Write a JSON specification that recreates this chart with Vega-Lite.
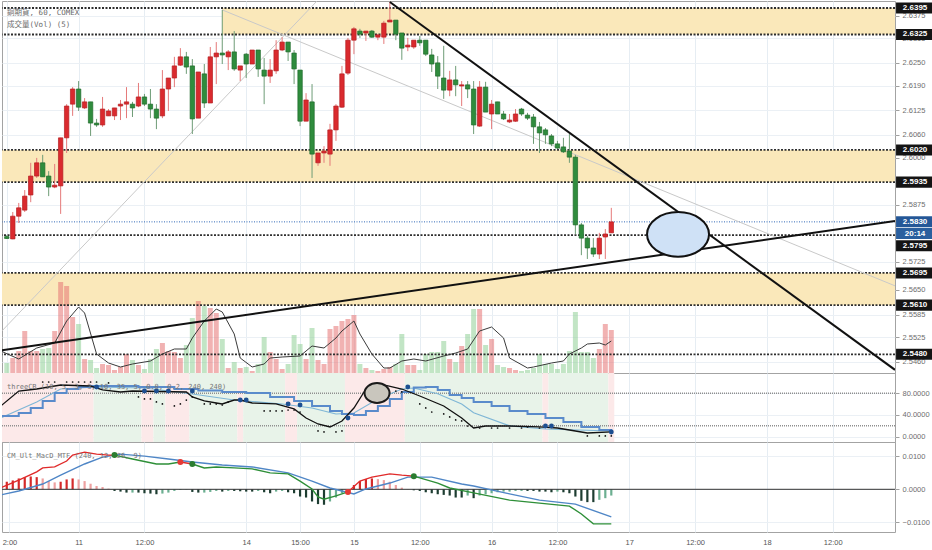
{
"$schema":"https://vega.github.io/schema/vega-lite/v6.json",
"padding":0,
"background":"#ffffff",
"spacing":0,
"bounds":"flush",
"config":{"view":{"stroke":"#a3a3a3","strokeWidth":1},"scale":{"continuousPadding":0},"font":"Liberation Sans","axis":{"labelFont":"Liberation Sans","labelFontSize":7.5,"labelColor":"#6e6e6e","tickColor":"#a0a0a0","tickSize":4,"domain":false,"gridColor":"#ebf0f5","labelPadding":3}},
"datasets":{
"zones":[{"i":35.96,"i2":148.4,"lo":2.6325,"hi":2.6395},{"i":-0.8,"i2":148.4,"lo":2.5935,"hi":2.602},{"i":-0.8,"i2":148.4,"lo":2.561,"hi":2.5695}],
"lv":[{"p":2.6395},{"p":2.6325},{"p":2.602},{"p":2.5935},{"p":2.5795},{"p":2.5695},{"p":2.561},{"p":2.548}],
"tl":[{"g":"up","w":"k","i":-0.8,"p":2.5491},{"g":"up","w":"k","i":148.4,"p":2.5832},{"g":"dn","w":"k","i":64,"p":2.6411},{"g":"dn","w":"k","i":148.4,"p":2.5439},{"g":"g1","w":"t","i":36,"p":2.639},{"g":"g1","w":"t","i":148.4,"p":2.5661},{"g":"g2","w":"t","i":-0.8,"p":2.5542},{"g":"g2","w":"t","i":51.8,"p":2.6413}],
"c":[
{"i":0,"o":2.5791,"h":2.5795,"l":2.5785,"c":2.5786,"v":1000},
{"i":1,"o":2.5785,"h":2.5856,"l":2.5784,"c":2.5845,"v":1500},
{"i":2,"o":2.5845,"h":2.588,"l":2.5827,"c":2.5867,"v":2200},
{"i":3,"o":2.5861,"h":2.5914,"l":2.5856,"c":2.5898,"v":4200},
{"i":4,"o":2.5901,"h":2.5986,"l":2.5882,"c":2.5951,"v":2200},
{"i":5,"o":2.5951,"h":2.5999,"l":2.5946,"c":2.5986,"v":2200},
{"i":6,"o":2.5986,"h":2.6007,"l":2.5949,"c":2.5949,"v":2400},
{"i":7,"o":2.5951,"h":2.5964,"l":2.5898,"c":2.5922,"v":2500},
{"i":8,"o":2.5922,"h":2.5983,"l":2.5919,"c":2.5927,"v":4200},
{"i":9,"o":2.5925,"h":2.6052,"l":2.5851,"c":2.6052,"v":9100},
{"i":10,"o":2.6052,"h":2.6141,"l":2.6012,"c":2.6136,"v":8700},
{"i":11,"o":2.6141,"h":2.6186,"l":2.611,"c":2.6181,"v":5600},
{"i":12,"o":2.6181,"h":2.6202,"l":2.6123,"c":2.6133,"v":4900},
{"i":13,"o":2.6131,"h":2.6157,"l":2.6128,"c":2.6147,"v":1400},
{"i":14,"o":2.6147,"h":2.6147,"l":2.6057,"c":2.6091,"v":1300},
{"i":15,"o":2.6091,"h":2.6102,"l":2.6081,"c":2.6086,"v":500},
{"i":16,"o":2.6086,"h":2.616,"l":2.6081,"c":2.6128,"v":900},
{"i":17,"o":2.611,"h":2.6128,"l":2.611,"c":2.6123,"v":800},
{"i":18,"o":2.611,"h":2.6131,"l":2.6099,"c":2.6131,"v":300},
{"i":19,"o":2.6136,"h":2.6152,"l":2.6099,"c":2.6141,"v":600},
{"i":20,"o":2.6141,"h":2.6186,"l":2.6104,"c":2.6147,"v":1900},
{"i":21,"o":2.6141,"h":2.6147,"l":2.6107,"c":2.6131,"v":1300},
{"i":22,"o":2.6136,"h":2.6197,"l":2.6133,"c":2.616,"v":800},
{"i":23,"o":2.616,"h":2.6168,"l":2.6136,"c":2.6141,"v":400},
{"i":24,"o":2.6141,"h":2.6181,"l":2.6104,"c":2.6128,"v":1400},
{"i":25,"o":2.6128,"h":2.6141,"l":2.6075,"c":2.6104,"v":2400},
{"i":26,"o":2.611,"h":2.6231,"l":2.6104,"c":2.6181,"v":3000},
{"i":27,"o":2.6181,"h":2.621,"l":2.6123,"c":2.621,"v":2200},
{"i":28,"o":2.621,"h":2.6266,"l":2.6186,"c":2.6242,"v":2100},
{"i":29,"o":2.6244,"h":2.6289,"l":2.6242,"c":2.6266,"v":1500},
{"i":30,"o":2.6266,"h":2.6279,"l":2.6221,"c":2.6239,"v":2800},
{"i":31,"o":2.6242,"h":2.626,"l":2.6062,"c":2.6102,"v":5500},
{"i":32,"o":2.6104,"h":2.6226,"l":2.6104,"c":2.6226,"v":7200},
{"i":33,"o":2.6221,"h":2.6247,"l":2.6131,"c":2.6144,"v":6700},
{"i":34,"o":2.6144,"h":2.6292,"l":2.6144,"c":2.6266,"v":6500},
{"i":35,"o":2.6266,"h":2.6305,"l":2.6194,"c":2.6276,"v":6000},
{"i":36,"o":2.6276,"h":2.639,"l":2.6247,"c":2.6271,"v":3400},
{"i":37,"o":2.6266,"h":2.6284,"l":2.6231,"c":2.6279,"v":500},
{"i":38,"o":2.6279,"h":2.6334,"l":2.6229,"c":2.6234,"v":1100},
{"i":39,"o":2.6231,"h":2.6242,"l":2.6202,"c":2.6242,"v":500},
{"i":40,"o":2.6273,"h":2.6276,"l":2.621,"c":2.6247,"v":600},
{"i":41,"o":2.6247,"h":2.6284,"l":2.6247,"c":2.6284,"v":200},
{"i":42,"o":2.6284,"h":2.6284,"l":2.6213,"c":2.6234,"v":900},
{"i":43,"o":2.6231,"h":2.6263,"l":2.6141,"c":2.6215,"v":3600},
{"i":44,"o":2.6215,"h":2.626,"l":2.6197,"c":2.6231,"v":2100},
{"i":45,"o":2.6229,"h":2.631,"l":2.6221,"c":2.6284,"v":1400},
{"i":46,"o":2.6284,"h":2.6318,"l":2.6281,"c":2.6305,"v":400},
{"i":47,"o":2.6305,"h":2.6305,"l":2.6255,"c":2.6279,"v":900},
{"i":48,"o":2.6276,"h":2.6284,"l":2.6194,"c":2.6234,"v":3800},
{"i":49,"o":2.6231,"h":2.6231,"l":2.6083,"c":2.6096,"v":2900},
{"i":50,"o":2.6096,"h":2.617,"l":2.6096,"c":2.6152,"v":1400},
{"i":51,"o":2.6147,"h":2.6194,"l":2.5946,"c":2.6009,"v":4500},
{"i":52,"o":2.5986,"h":2.6012,"l":2.5978,"c":2.6012,"v":1300},
{"i":53,"o":2.6012,"h":2.603,"l":2.5986,"c":2.6017,"v":900},
{"i":54,"o":2.6009,"h":2.6089,"l":2.5978,"c":2.6073,"v":4400},
{"i":55,"o":2.6073,"h":2.6141,"l":2.6044,"c":2.6136,"v":4700},
{"i":56,"o":2.6133,"h":2.6242,"l":2.6131,"c":2.6221,"v":5200},
{"i":57,"o":2.6223,"h":2.6316,"l":2.6218,"c":2.631,"v":5400},
{"i":58,"o":2.631,"h":2.6345,"l":2.6273,"c":2.634,"v":5800},
{"i":59,"o":2.6334,"h":2.634,"l":2.6316,"c":2.6326,"v":900},
{"i":60,"o":2.6329,"h":2.6334,"l":2.6308,"c":2.6334,"v":500},
{"i":61,"o":2.6334,"h":2.6337,"l":2.6316,"c":2.6318,"v":300},
{"i":62,"o":2.6318,"h":2.6326,"l":2.631,"c":2.6324,"v":200},
{"i":63,"o":2.6318,"h":2.6361,"l":2.63,"c":2.6355,"v":400},
{"i":64,"o":2.6358,"h":2.6411,"l":2.6358,"c":2.6363,"v":600},
{"i":65,"o":2.6363,"h":2.6363,"l":2.631,"c":2.6326,"v":900},
{"i":66,"o":2.6329,"h":2.6329,"l":2.6258,"c":2.6289,"v":3900},
{"i":67,"o":2.6292,"h":2.6316,"l":2.6281,"c":2.6297,"v":800},
{"i":68,"o":2.6292,"h":2.631,"l":2.6287,"c":2.631,"v":800},
{"i":69,"o":2.631,"h":2.6321,"l":2.6295,"c":2.6303,"v":300},
{"i":70,"o":2.631,"h":2.631,"l":2.6268,"c":2.6273,"v":1900},
{"i":71,"o":2.6271,"h":2.6287,"l":2.6226,"c":2.6247,"v":2100},
{"i":72,"o":2.625,"h":2.6268,"l":2.6181,"c":2.6215,"v":2100},
{"i":73,"o":2.621,"h":2.6295,"l":2.6155,"c":2.6178,"v":3200},
{"i":74,"o":2.6178,"h":2.6229,"l":2.6162,"c":2.6205,"v":1400},
{"i":75,"o":2.6205,"h":2.6242,"l":2.6162,"c":2.6192,"v":1100},
{"i":76,"o":2.6189,"h":2.6202,"l":2.6136,"c":2.6192,"v":2700},
{"i":77,"o":2.6192,"h":2.6202,"l":2.6157,"c":2.6181,"v":3900},
{"i":78,"o":2.6181,"h":2.6202,"l":2.6062,"c":2.6086,"v":6400},
{"i":79,"o":2.6083,"h":2.6202,"l":2.6081,"c":2.6186,"v":6400},
{"i":80,"o":2.6186,"h":2.62,"l":2.612,"c":2.612,"v":2800},
{"i":81,"o":2.6115,"h":2.6152,"l":2.6075,"c":2.6141,"v":3400},
{"i":82,"o":2.6147,"h":2.6147,"l":2.6115,"c":2.6115,"v":800},
{"i":83,"o":2.6115,"h":2.6123,"l":2.6099,"c":2.6102,"v":600},
{"i":84,"o":2.6094,"h":2.6115,"l":2.6091,"c":2.6099,"v":500},
{"i":85,"o":2.6096,"h":2.6128,"l":2.6094,"c":2.6115,"v":300},
{"i":86,"o":2.6128,"h":2.6131,"l":2.611,"c":2.6115,"v":200},
{"i":87,"o":2.6112,"h":2.6118,"l":2.6099,"c":2.6104,"v":300},
{"i":88,"o":2.6107,"h":2.6115,"l":2.6036,"c":2.6081,"v":500},
{"i":89,"o":2.6081,"h":2.6094,"l":2.6012,"c":2.6065,"v":1900},
{"i":90,"o":2.6073,"h":2.6078,"l":2.6036,"c":2.606,"v":900},
{"i":91,"o":2.6057,"h":2.6062,"l":2.603,"c":2.6036,"v":900},
{"i":92,"o":2.6036,"h":2.6044,"l":2.6022,"c":2.6025,"v":400},
{"i":93,"o":2.6028,"h":2.6052,"l":2.6012,"c":2.6015,"v":900},
{"i":94,"o":2.6017,"h":2.6062,"l":2.5986,"c":2.6001,"v":2200},
{"i":95,"o":2.6001,"h":2.6007,"l":2.5798,"c":2.5822,"v":6100},
{"i":96,"o":2.5822,"h":2.5827,"l":2.5742,"c":2.5787,"v":2100},
{"i":97,"o":2.5787,"h":2.5793,"l":2.5732,"c":2.5761,"v":2100},
{"i":98,"o":2.5761,"h":2.5787,"l":2.5737,"c":2.5745,"v":1500},
{"i":99,"o":2.5745,"h":2.5801,"l":2.5732,"c":2.5787,"v":2400},
{"i":100,"o":2.579,"h":2.5811,"l":2.5732,"c":2.5798,"v":4900},
{"i":101,"o":2.5801,"h":2.5867,"l":2.5801,"c":2.583,"v":4300}
],
"vma":[{"i":-1,"v":2200},{"i":2,"v":1400},{"i":5,"v":2500},{"i":8,"v":3000},{"i":10,"v":5200},{"i":12,"v":6600},{"i":13,"v":6000},{"i":15,"v":1900},{"i":17,"v":1000},{"i":19,"v":600},{"i":21,"v":900},{"i":24,"v":1200},{"i":26,"v":1900},{"i":28,"v":2400},{"i":30,"v":2400},{"i":31,"v":3500},{"i":33,"v":5200},{"i":35,"v":6400},{"i":36,"v":6100},{"i":38,"v":3900},{"i":39,"v":1500},{"i":41,"v":600},{"i":43,"v":900},{"i":44,"v":1500},{"i":46,"v":1600},{"i":49,"v":1700},{"i":51,"v":2700},{"i":53,"v":2500},{"i":55,"v":3500},{"i":56,"v":4200},{"i":58,"v":5200},{"i":59,"v":3900},{"i":61,"v":1900},{"i":63,"v":500},{"i":64,"v":500},{"i":66,"v":1200},{"i":68,"v":1400},{"i":70,"v":1200},{"i":73,"v":1700},{"i":75,"v":2000},{"i":77,"v":2400},{"i":79,"v":4200},{"i":81,"v":4600},{"i":83,"v":3500},{"i":84,"v":1500},{"i":87,"v":500},{"i":88,"v":600},{"i":91,"v":1000},{"i":93,"v":1200},{"i":94,"v":1900},{"i":96,"v":2500},{"i":97,"v":2900},{"i":99,"v":3000},{"i":100,"v":2800},{"i":101,"v":3200}],
"stripes":[{"i":-0.8,"i2":14.5,"k":"p"},{"i":14.5,"i2":22.5,"k":"g"},{"i":22.5,"i2":24.5,"k":"p"},{"i":24.5,"i2":26.5,"k":"g"},{"i":26.5,"i2":30.5,"k":"p"},{"i":30.5,"i2":38.5,"k":"g"},{"i":38.5,"i2":39.5,"k":"p"},{"i":39.5,"i2":46.5,"k":"g"},{"i":46.5,"i2":48.5,"k":"p"},{"i":48.5,"i2":56.5,"k":"g"},{"i":56.5,"i2":66.5,"k":"p"},{"i":66.5,"i2":89.5,"k":"g"},{"i":89.5,"i2":90.5,"k":"p"},{"i":90.5,"i2":100.5,"k":"g"},{"i":100.5,"i2":101.5,"k":"p"}],
"osl":[{"v":80},{"v":20}],
"kl":[{"i":-1,"v":56.6},{"i":2,"v":84.2},{"i":5,"v":87.9},{"i":9,"v":95.3},{"i":14,"v":93.4},{"i":16,"v":86.1},{"i":19,"v":82.4},{"i":21,"v":84.2},{"i":30,"v":82.4},{"i":31,"v":73.2},{"i":33,"v":65.8},{"i":35,"v":62.1},{"i":36,"v":60.3},{"i":38,"v":67.6},{"i":39,"v":67.6},{"i":41,"v":62.1},{"i":45,"v":60.3},{"i":48,"v":51.1},{"i":50,"v":34.5},{"i":52,"v":23.4},{"i":54,"v":17.9},{"i":56,"v":28.9},{"i":58,"v":52.9},{"i":60,"v":87.9},{"i":62,"v":93.4},{"i":63,"v":95.3},{"i":66,"v":87.9},{"i":69,"v":75},{"i":73,"v":56.6},{"i":76,"v":34.5},{"i":78,"v":16},{"i":80,"v":19.7},{"i":84,"v":19.7},{"i":89,"v":17.9},{"i":92,"v":16},{"i":95,"v":10.5},{"i":97,"v":6.8},{"i":101,"v":8.7}],
"st":[{"i":-1,"v":38.1},{"i":2,"v":43.7},{"i":4,"v":52.9},{"i":6,"v":65.8},{"i":8,"v":80.5},{"i":10,"v":87.9},{"i":12,"v":91.6},{"i":14,"v":93.4},{"i":22,"v":91.6},{"i":28,"v":87.9},{"i":32,"v":85.1},{"i":36,"v":82.4},{"i":40,"v":80.5},{"i":44,"v":73.2},{"i":48,"v":65.8},{"i":51,"v":56.6},{"i":54,"v":47.5},{"i":56,"v":41.9},{"i":58,"v":40.1},{"i":60,"v":47.5},{"i":62,"v":56.6},{"i":64,"v":69.5},{"i":66,"v":82.4},{"i":68,"v":90.7},{"i":70,"v":91.6},{"i":72,"v":86.1},{"i":74,"v":76.9},{"i":76,"v":71.3},{"i":78,"v":63.9},{"i":81,"v":56.6},{"i":84,"v":47.5},{"i":87,"v":41.9},{"i":90,"v":34.5},{"i":93,"v":27.1},{"i":96,"v":17.9},{"i":99,"v":12.3},{"i":101,"v":8.7}],
"lb":[{"i":-1,"v":34.5},{"i":5,"v":64},{"i":9,"v":87.9},{"i":15,"v":91.6},{"i":23,"v":89.8},{"i":31,"v":78.8},{"i":38,"v":67.6},{"i":46,"v":60.3},{"i":51,"v":52.9},{"i":55,"v":41.9},{"i":58,"v":43.7},{"i":62,"v":69.5},{"i":66,"v":87.9},{"i":68,"v":89.8},{"i":72,"v":79},{"i":76,"v":60.3},{"i":78,"v":44},{"i":84,"v":20},{"i":90,"v":14.2},{"i":101,"v":10.5}],
"dots":[{"i":6,"v":100.8},{"i":7,"v":100.8},{"i":8,"v":100.8},{"i":10,"v":100.8},{"i":11,"v":100.8},{"i":12,"v":100.8},{"i":13,"v":100.8},{"i":14,"v":100.8},{"i":15,"v":100.8},{"i":17,"v":99},{"i":22,"v":73.2},{"i":23,"v":69.5},{"i":24,"v":69.5},{"i":25,"v":64},{"i":26,"v":60.3},{"i":28,"v":56.6},{"i":29,"v":60.3},{"i":30,"v":67.6},{"i":31,"v":73.2},{"i":33,"v":60.3},{"i":34,"v":60.3},{"i":35,"v":60.3},{"i":36,"v":58.4},{"i":37,"v":64},{"i":43,"v":47.4},{"i":44,"v":47.4},{"i":45,"v":47.4},{"i":46,"v":47.4},{"i":47,"v":49.2},{"i":48,"v":49.2},{"i":49,"v":45.5},{"i":52,"v":10.5},{"i":53,"v":8.7},{"i":55,"v":8.7},{"i":56,"v":10.5},{"i":60,"v":80.5},{"i":62,"v":82.4},{"i":63,"v":84.2},{"i":65,"v":84.2},{"i":66,"v":82.4},{"i":69,"v":60.3},{"i":70,"v":52.9},{"i":71,"v":45.5},{"i":73,"v":41.9},{"i":74,"v":36.4},{"i":75,"v":30.8},{"i":76,"v":29},{"i":77,"v":19.7},{"i":79,"v":16},{"i":81,"v":16},{"i":82,"v":16},{"i":84,"v":16},{"i":86,"v":16},{"i":87,"v":17.9},{"i":89,"v":16},{"i":97,"v":1.3},{"i":99,"v":1.3},{"i":100,"v":1.3},{"i":101,"v":1.3}],
"mk":[{"i":15,"v":91.6},{"i":23,"v":84.2},{"i":25,"v":84.2},{"i":27,"v":84.2},{"i":31,"v":84.2},{"i":39,"v":67.6},{"i":40,"v":67.6},{"i":47,"v":60.3},{"i":49,"v":58.4},{"i":57,"v":34.5},{"i":67,"v":91.6},{"i":90,"v":19.7},{"i":91,"v":19.7},{"i":101,"v":8.7}],
"hist":[{"i":0,"h":0.0023,"k":"ur"},{"i":1,"h":0.0027,"k":"ur"},{"i":2,"h":0.0033,"k":"ur"},{"i":3,"h":0.0037,"k":"ur"},{"i":4,"h":0.0039,"k":"ur"},{"i":5,"h":0.0037,"k":"ur"},{"i":6,"h":0.0033,"k":"uf"},{"i":7,"h":0.0025,"k":"uf"},{"i":8,"h":0.0021,"k":"uf"},{"i":9,"h":0.0023,"k":"ur"},{"i":10,"h":0.003,"k":"ur"},{"i":11,"h":0.0033,"k":"ur"},{"i":12,"h":0.003,"k":"uf"},{"i":13,"h":0.0025,"k":"uf"},{"i":14,"h":0.0017,"k":"uf"},{"i":15,"h":0.001,"k":"uf"},{"i":16,"h":0.0007,"k":"uf"},{"i":17,"h":0.0002,"k":"uf"},{"i":18,"h":-0.0005,"k":"df"},{"i":19,"h":-0.0007,"k":"df"},{"i":20,"h":-0.001,"k":"df"},{"i":21,"h":-0.001,"k":"dr"},{"i":22,"h":-0.001,"k":"df"},{"i":23,"h":-0.0012,"k":"df"},{"i":24,"h":-0.0013,"k":"df"},{"i":25,"h":-0.0015,"k":"df"},{"i":26,"h":-0.0013,"k":"dr"},{"i":27,"h":-0.001,"k":"dr"},{"i":28,"h":-0.0005,"k":"dr"},{"i":29,"h":-0.0002,"k":"dr"},{"i":30,"h":-0.0001,"k":"dr"},{"i":31,"h":-0.0008,"k":"df"},{"i":32,"h":-0.001,"k":"df"},{"i":33,"h":-0.001,"k":"dr"},{"i":34,"h":-0.0008,"k":"dr"},{"i":35,"h":-0.0005,"k":"dr"},{"i":36,"h":-0.0007,"k":"df"},{"i":37,"h":-0.0005,"k":"dr"},{"i":38,"h":-0.0005,"k":"df"},{"i":39,"h":-0.0006,"k":"df"},{"i":40,"h":-0.0007,"k":"df"},{"i":41,"h":-0.0007,"k":"df"},{"i":42,"h":-0.0005,"k":"dr"},{"i":43,"h":-0.0009,"k":"df"},{"i":44,"h":-0.0012,"k":"df"},{"i":45,"h":-0.0007,"k":"dr"},{"i":46,"h":-0.0005,"k":"dr"},{"i":47,"h":-0.0009,"k":"df"},{"i":48,"h":-0.0012,"k":"df"},{"i":49,"h":-0.0022,"k":"df"},{"i":50,"h":-0.0025,"k":"df"},{"i":51,"h":-0.0037,"k":"df"},{"i":52,"h":-0.0045,"k":"df"},{"i":53,"h":-0.0047,"k":"df"},{"i":54,"h":-0.0037,"k":"dr"},{"i":55,"h":-0.0025,"k":"dr"},{"i":56,"h":-0.0012,"k":"dr"},{"i":57,"h":-0.0005,"k":"dr"},{"i":58,"h":0.0013,"k":"ur"},{"i":59,"h":0.0025,"k":"ur"},{"i":60,"h":0.0031,"k":"ur"},{"i":61,"h":0.0033,"k":"ur"},{"i":62,"h":0.0031,"k":"uf"},{"i":63,"h":0.0028,"k":"uf"},{"i":64,"h":0.0023,"k":"uf"},{"i":65,"h":0.0013,"k":"uf"},{"i":66,"h":0.0005,"k":"uf"},{"i":67,"h":0.0001,"k":"uf"},{"i":68,"h":-0.0003,"k":"df"},{"i":69,"h":-0.0005,"k":"df"},{"i":70,"h":-0.0009,"k":"df"},{"i":71,"h":-0.0012,"k":"df"},{"i":72,"h":-0.0015,"k":"df"},{"i":73,"h":-0.0017,"k":"df"},{"i":74,"h":-0.0019,"k":"df"},{"i":75,"h":-0.0025,"k":"df"},{"i":76,"h":-0.0025,"k":"df"},{"i":77,"h":-0.0019,"k":"dr"},{"i":78,"h":-0.0027,"k":"df"},{"i":79,"h":-0.0019,"k":"dr"},{"i":80,"h":-0.0015,"k":"dr"},{"i":81,"h":-0.0012,"k":"dr"},{"i":82,"h":-0.0009,"k":"dr"},{"i":83,"h":-0.0007,"k":"dr"},{"i":84,"h":-0.0007,"k":"dr"},{"i":85,"h":-0.0005,"k":"dr"},{"i":86,"h":-0.0005,"k":"dr"},{"i":87,"h":-0.0005,"k":"df"},{"i":88,"h":-0.0005,"k":"df"},{"i":89,"h":-0.0007,"k":"df"},{"i":90,"h":-0.0007,"k":"df"},{"i":91,"h":-0.0009,"k":"df"},{"i":92,"h":-0.0007,"k":"dr"},{"i":93,"h":-0.0009,"k":"df"},{"i":94,"h":-0.0012,"k":"df"},{"i":95,"h":-0.0022,"k":"df"},{"i":96,"h":-0.0035,"k":"df"},{"i":97,"h":-0.0039,"k":"df"},{"i":98,"h":-0.0039,"k":"df"},{"i":99,"h":-0.0032,"k":"dr"},{"i":100,"h":-0.0027,"k":"dr"},{"i":101,"h":-0.0019,"k":"dr"}],
"macd":[{"g":"a","col":"r","i":-1,"v":0.0005},{"g":"a","col":"r","i":2,"v":0.0028},{"g":"a","col":"r","i":5,"v":0.0053},{"g":"a","col":"r","i":6,"v":0.0065},{"g":"a","col":"r","i":8,"v":0.0068},{"g":"a","col":"r","i":10,"v":0.0086},{"g":"a","col":"r","i":11,"v":0.0104},{"g":"a","col":"r","i":13,"v":0.0113},{"g":"a","col":"r","i":15,"v":0.0107},{"g":"a","col":"r","i":17,"v":0.0104},{"g":"a","col":"r","i":18,"v":0.0104},
{"g":"b","col":"g","i":18,"v":0.0104},{"g":"b","col":"g","i":21,"v":0.0092},{"g":"b","col":"g","i":25,"v":0.0077},{"g":"b","col":"g","i":27,"v":0.0077},{"g":"b","col":"g","i":29,"v":0.0083},
{"g":"c","col":"r","i":29,"v":0.0083},{"g":"c","col":"r","i":31,"v":0.0077},
{"g":"d","col":"g","i":31,"v":0.0077},{"g":"d","col":"g","i":33,"v":0.0065},{"g":"d","col":"g","i":35,"v":0.0068},{"g":"d","col":"g","i":38,"v":0.0065},{"g":"d","col":"g","i":41,"v":0.0062},{"g":"d","col":"g","i":44,"v":0.005},{"g":"d","col":"g","i":47,"v":0.0047},{"g":"d","col":"g","i":49,"v":0.0025},{"g":"d","col":"g","i":51,"v":0.0001},{"g":"d","col":"g","i":52,"v":-0.0023},{"g":"d","col":"g","i":53,"v":-0.003},{"g":"d","col":"g","i":55,"v":-0.002},{"g":"d","col":"g","i":57,"v":-0.0008},
{"g":"e","col":"r","i":57,"v":-0.0008},{"g":"e","col":"r","i":59,"v":0.0025},{"g":"e","col":"r","i":61,"v":0.0037},{"g":"e","col":"r","i":64,"v":0.0047},{"g":"e","col":"r","i":66,"v":0.0043},{"g":"e","col":"r","i":68,"v":0.004},
{"g":"f","col":"g","i":68,"v":0.004},{"g":"f","col":"g","i":72,"v":0.0019},{"g":"f","col":"g","i":74,"v":0.0004},{"g":"f","col":"g","i":78,"v":-0.0011},{"g":"f","col":"g","i":84,"v":-0.0033},{"g":"f","col":"g","i":89,"v":-0.0042},{"g":"f","col":"g","i":94,"v":-0.0051},{"g":"f","col":"g","i":96,"v":-0.0075},{"g":"f","col":"g","i":98,"v":-0.0105},{"g":"f","col":"g","i":101,"v":-0.0105}],
"sig":[{"i":-1,"v":-0.0017},{"i":2,"v":-0.0005},{"i":6,"v":0.0016},{"i":9,"v":0.0043},{"i":13,"v":0.0077},{"i":16,"v":0.0098},{"i":19,"v":0.0107},{"i":23,"v":0.0101},{"i":27,"v":0.0092},{"i":31,"v":0.0083},{"i":36,"v":0.0074},{"i":41,"v":0.0068},{"i":47,"v":0.005},{"i":51,"v":0.0025},{"i":54,"v":0.0004},{"i":58,"v":-0.0014},{"i":60,"v":0.0001},{"i":64,"v":0.0019},{"i":67,"v":0.0037},{"i":71,"v":0.0037},{"i":76,"v":0.0016},{"i":78,"v":0.001},{"i":84,"v":-0.0014},{"i":89,"v":-0.0033},{"i":95,"v":-0.0045},{"i":101,"v":-0.0084}],
"md":[{"i":18,"v":0.0104,"col":"g"},{"i":29,"v":0.0083,"col":"r"},{"i":31,"v":0.0077,"col":"g"},{"i":57,"v":-0.0008,"col":"r"},{"i":68,"v":0.004,"col":"g"}]
},
"vconcat":[
{"width":893,"height":372,
"resolve":{"scale":{"y":"independent"}},
"layer":[
  {"data":{"name":"zones"},"mark":{"type":"rect","fill":"#fae8ba"},"encoding":{"x":{"field":"i","type":"quantitative","scale":{"domain":[-0.8,148.4],"nice":false,"zero":false},"title":null,"axis":{"values":[0,12,23,40,49,58,69,81,92,104,115,127,138],"grid":true,"gridColor":"#e6edf3","labels":false,"ticks":false,"domain":false}},"x2":{"field":"i2"},"y":{"field":"lo","type":"quantitative","scale":{"domain":[2.54307,2.64135],"nice":false,"zero":false},"axis":null,"title":null},"y2":{"field":"hi"}}},
  {"data":{"name":"c"},"mark":{"type":"bar","size":5,"opacity":0.55},"encoding":{"x":{"field":"i","type":"quantitative","scale":{"domain":[-0.8,148.4],"nice":false,"zero":false},"title":null,"axis":{"values":[0,12,23,40,49,58,69,81,92,104,115,127,138],"grid":true,"gridColor":"#e6edf3","labels":false,"ticks":false,"domain":false}},"y":{"field":"v","type":"quantitative","scale":{"domain":[0,37200],"nice":false},"axis":null,"title":null},"color":{"condition":{"test":"datum.c >= datum.o","value":"#e57373"},"value":"#8fd096"}}},
  {"data":{"name":"vma"},"mark":{"type":"line","color":"#3b3b3b","strokeWidth":1,"clip":true},"encoding":{"x":{"field":"i","type":"quantitative","scale":{"domain":[-0.8,148.4],"nice":false,"zero":false},"title":null,"axis":{"values":[0,12,23,40,49,58,69,81,92,104,115,127,138],"grid":true,"gridColor":"#e6edf3","labels":false,"ticks":false,"domain":false}},"y":{"field":"v","type":"quantitative","scale":{"domain":[0,37200],"nice":false},"axis":null,"title":null}}},
  {"data":{"name":"lv"},"mark":{"type":"rule","color":"#2e2e2e","strokeWidth":1.8,"strokeDash":[2,1.5]},"encoding":{"y":{"field":"p","type":"quantitative","scale":{"domain":[2.54307,2.64135],"nice":false,"zero":false},"axis":null,"title":null}}},
  {"data":{"name":"c"},"transform":[{"filter":"datum.i == 101"}],"mark":{"type":"rule","color":"#2f68b8","strokeWidth":1,"strokeDash":[1,1.5]},"encoding":{"y":{"field":"c","type":"quantitative","scale":{"domain":[2.54307,2.64135],"nice":false,"zero":false},"axis":null,"title":null}}},
  {"data":{"name":"tl"},"transform":[{"filter":"datum.w == 't'"}],"mark":{"type":"line","color":"#c9c9c9","strokeWidth":1,"clip":true},"encoding":{"x":{"field":"i","type":"quantitative","scale":{"domain":[-0.8,148.4],"nice":false,"zero":false},"title":null,"axis":{"values":[0,12,23,40,49,58,69,81,92,104,115,127,138],"grid":true,"gridColor":"#e6edf3","labels":false,"ticks":false,"domain":false}},"y":{"field":"p","type":"quantitative","scale":{"domain":[2.54307,2.64135],"nice":false,"zero":false},"axis":null,"title":null},"detail":{"field":"g","type":"nominal"}}},
  {"data":{"name":"c"},"mark":{"type":"rule","strokeWidth":1},"encoding":{"x":{"field":"i","type":"quantitative","scale":{"domain":[-0.8,148.4],"nice":false,"zero":false},"title":null,"axis":{"values":[0,12,23,40,49,58,69,81,92,104,115,127,138],"grid":true,"gridColor":"#e6edf3","labels":false,"ticks":false,"domain":false}},"y":{"field":"l","type":"quantitative","scale":{"domain":[2.54307,2.64135],"nice":false,"zero":false},"title":null,"axis":{"orient":"right","values":[2.546,2.5525,2.5585,2.565,2.5725,2.5875,2.6,2.606,2.6125,2.619,2.625,2.6315,2.6375],"format":".4f","grid":true}},"y2":{"field":"h"},"color":{"condition":{"test":"datum.c >= datum.o","value":"#e57a7a"},"value":"#6e9c76"}}},
  {"data":{"name":"c"},"mark":{"type":"bar","size":4.4,"strokeWidth":0.7},"encoding":{"x":{"field":"i","type":"quantitative","scale":{"domain":[-0.8,148.4],"nice":false,"zero":false},"title":null,"axis":{"values":[0,12,23,40,49,58,69,81,92,104,115,127,138],"grid":true,"gridColor":"#e6edf3","labels":false,"ticks":false,"domain":false}},"y":{"field":"o","type":"quantitative","scale":{"domain":[2.54307,2.64135],"nice":false,"zero":false},"axis":null,"title":null},"y2":{"field":"c"},"fill":{"condition":{"test":"datum.c >= datum.o","value":"#da2a2e"},"value":"#2f8c3d"},"stroke":{"condition":{"test":"datum.c >= datum.o","value":"#b51f23"},"value":"#1f6a2b"}}},
  {"data":{"name":"tl"},"transform":[{"filter":"datum.w == 'k'"}],"mark":{"type":"line","color":"#111111","strokeWidth":2,"clip":true},"encoding":{"x":{"field":"i","type":"quantitative","scale":{"domain":[-0.8,148.4],"nice":false,"zero":false},"title":null,"axis":{"values":[0,12,23,40,49,58,69,81,92,104,115,127,138],"grid":true,"gridColor":"#e6edf3","labels":false,"ticks":false,"domain":false}},"y":{"field":"p","type":"quantitative","scale":{"domain":[2.54307,2.64135],"nice":false,"zero":false},"axis":null,"title":null},"detail":{"field":"g","type":"nominal"}}},
  {"data":{"values":[{"i":112.15,"p":2.5797}]},"mark":{"type":"point","shape":"M-1,0C-1,-0.3977,-0.5523,-0.72,0,-0.72C0.5523,-0.72,1,-0.3977,1,0C1,0.3977,0.5523,0.72,0,0.72C-0.5523,0.72,-1,0.3977,-1,0Z","size":3844,"filled":true,"fill":"#cfe1f6","stroke":"#111111","strokeWidth":2,"opacity":1},"encoding":{"x":{"field":"i","type":"quantitative","scale":{"domain":[-0.8,148.4],"nice":false,"zero":false},"title":null,"axis":{"values":[0,12,23,40,49,58,69,81,92,104,115,127,138],"grid":true,"gridColor":"#e6edf3","labels":false,"ticks":false,"domain":false}},"y":{"field":"p","type":"quantitative","scale":{"domain":[2.54307,2.64135],"nice":false,"zero":false},"axis":null,"title":null}}},
  {"data":{"values":[{"t":"銅期貨, 60, COMEX","i":0.05,"p":2.6382},{"t":"成交量(Vol) (5)","i":0.05,"p":2.635}]},"mark":{"type":"text","font":"DejaVu Sans Mono, Noto Sans CJK TC","fontSize":7.5,"color":"#6b6b6b","align":"left","baseline":"middle"},"encoding":{"x":{"field":"i","type":"quantitative","scale":{"domain":[-0.8,148.4],"nice":false,"zero":false},"title":null,"axis":{"values":[0,12,23,40,49,58,69,81,92,104,115,127,138],"grid":true,"gridColor":"#e6edf3","labels":false,"ticks":false,"domain":false}},"y":{"field":"p","type":"quantitative","scale":{"domain":[2.54307,2.64135],"nice":false,"zero":false},"axis":null,"title":null},"text":{"field":"t","type":"nominal"}}},
  {"data":{"name":"lv"},"transform":[{"filter":"datum.p != 2.5795"}],"mark":{"type":"point","shape":"M-1,-0.29L1,-0.29L1,0.29L-1,0.29Z","size":1444,"filled":true,"color":"#141414","strokeWidth":0,"opacity":1},"encoding":{"x":{"datum":151.75,"type":"quantitative","scale":{"domain":[-0.8,148.4],"nice":false,"zero":false},"title":null,"axis":{"values":[0,12,23,40,49,58,69,81,92,104,115,127,138],"grid":true,"gridColor":"#e6edf3","labels":false,"ticks":false,"domain":false}},"y":{"field":"p","type":"quantitative","scale":{"domain":[2.54307,2.64135],"nice":false,"zero":false},"axis":null,"title":null}}},
  {"data":{"name":"lv"},"transform":[{"filter":"datum.p != 2.5795"}],"mark":{"type":"text","color":"#ffffff","fontSize":8,"fontWeight":"bold","align":"center","baseline":"middle"},"encoding":{"x":{"datum":151.75,"type":"quantitative","scale":{"domain":[-0.8,148.4],"nice":false,"zero":false},"title":null,"axis":{"values":[0,12,23,40,49,58,69,81,92,104,115,127,138],"grid":true,"gridColor":"#e6edf3","labels":false,"ticks":false,"domain":false}},"y":{"field":"p","type":"quantitative","scale":{"domain":[2.54307,2.64135],"nice":false,"zero":false},"axis":null,"title":null},"text":{"field":"p","type":"quantitative","format":".4f"}}},
  {"data":{"name":"lv"},"transform":[{"filter":"datum.p == 2.5795"}],"mark":{"type":"point","shape":"M-1,-0.29L1,-0.29L1,0.29L-1,0.29Z","size":1444,"filled":true,"color":"#141414","strokeWidth":0,"opacity":1,"yOffset":10.7},"encoding":{"x":{"datum":151.75,"type":"quantitative","scale":{"domain":[-0.8,148.4],"nice":false,"zero":false},"title":null,"axis":{"values":[0,12,23,40,49,58,69,81,92,104,115,127,138],"grid":true,"gridColor":"#e6edf3","labels":false,"ticks":false,"domain":false}},"y":{"field":"p","type":"quantitative","scale":{"domain":[2.54307,2.64135],"nice":false,"zero":false},"axis":null,"title":null}}},
  {"data":{"name":"lv"},"transform":[{"filter":"datum.p == 2.5795"}],"mark":{"type":"text","color":"#ffffff","fontSize":8,"fontWeight":"bold","align":"center","baseline":"middle","yOffset":10.7},"encoding":{"x":{"datum":151.75,"type":"quantitative","scale":{"domain":[-0.8,148.4],"nice":false,"zero":false},"title":null,"axis":{"values":[0,12,23,40,49,58,69,81,92,104,115,127,138],"grid":true,"gridColor":"#e6edf3","labels":false,"ticks":false,"domain":false}},"y":{"field":"p","type":"quantitative","scale":{"domain":[2.54307,2.64135],"nice":false,"zero":false},"axis":null,"title":null},"text":{"field":"p","type":"quantitative","format":".4f"}}},
  {"data":{"name":"c"},"transform":[{"filter":"datum.i == 101"}],"mark":{"type":"point","shape":"M-1,-0.29L1,-0.29L1,0.29L-1,0.29Z","size":1444,"filled":true,"color":"#245797","strokeWidth":0,"opacity":1},"encoding":{"x":{"datum":151.75,"type":"quantitative","scale":{"domain":[-0.8,148.4],"nice":false,"zero":false},"title":null,"axis":{"values":[0,12,23,40,49,58,69,81,92,104,115,127,138],"grid":true,"gridColor":"#e6edf3","labels":false,"ticks":false,"domain":false}},"y":{"field":"c","type":"quantitative","scale":{"domain":[2.54307,2.64135],"nice":false,"zero":false},"axis":null,"title":null}}},
  {"data":{"name":"c"},"transform":[{"filter":"datum.i == 101"}],"mark":{"type":"text","color":"#ffffff","fontSize":8,"fontWeight":"bold","align":"center","baseline":"middle"},"encoding":{"x":{"datum":151.75,"type":"quantitative","scale":{"domain":[-0.8,148.4],"nice":false,"zero":false},"title":null,"axis":{"values":[0,12,23,40,49,58,69,81,92,104,115,127,138],"grid":true,"gridColor":"#e6edf3","labels":false,"ticks":false,"domain":false}},"y":{"field":"c","type":"quantitative","scale":{"domain":[2.54307,2.64135],"nice":false,"zero":false},"axis":null,"title":null},"text":{"field":"c","type":"quantitative","format":".4f"}}},
  {"data":{"name":"c"},"transform":[{"filter":"datum.i == 101"}],"mark":{"type":"point","shape":"M-1,-0.29L1,-0.29L1,0.29L-1,0.29Z","size":1444,"filled":true,"color":"#2a5f9e","strokeWidth":0,"opacity":1,"yOffset":11.7},"encoding":{"x":{"datum":151.75,"type":"quantitative","scale":{"domain":[-0.8,148.4],"nice":false,"zero":false},"title":null,"axis":{"values":[0,12,23,40,49,58,69,81,92,104,115,127,138],"grid":true,"gridColor":"#e6edf3","labels":false,"ticks":false,"domain":false}},"y":{"field":"c","type":"quantitative","scale":{"domain":[2.54307,2.64135],"nice":false,"zero":false},"axis":null,"title":null}}},
  {"data":{"name":"c"},"transform":[{"filter":"datum.i == 101"}],"mark":{"type":"text","text":"20:14","color":"#ffffff","fontSize":8,"fontWeight":"bold","align":"center","baseline":"middle","yOffset":11.7},"encoding":{"x":{"datum":151.75,"type":"quantitative","scale":{"domain":[-0.8,148.4],"nice":false,"zero":false},"title":null,"axis":{"values":[0,12,23,40,49,58,69,81,92,104,115,127,138],"grid":true,"gridColor":"#e6edf3","labels":false,"ticks":false,"domain":false}},"y":{"field":"c","type":"quantitative","scale":{"domain":[2.54307,2.64135],"nice":false,"zero":false},"axis":null,"title":null}}}
]},
{"width":893,"height":69,
"layer":[
 {"data":{"name":"stripes"},"mark":{"type":"rect"},"encoding":{"x":{"field":"i","type":"quantitative","scale":{"domain":[-0.8,148.4],"nice":false,"zero":false},"title":null,"axis":{"values":[0,12,23,40,49,58,69,81,92,104,115,127,138],"grid":true,"gridColor":"#e6edf3","labels":false,"ticks":false,"domain":false}},"x2":{"field":"i2"},"color":{"condition":{"test":"datum.k == 'p'","value":"#fce9e9"},"value":"#e8f3e9"}}},
 {"data":{"name":"osl"},"mark":{"type":"rule","color":"#8f8f8f","strokeWidth":1.5,"strokeDash":[1,1]},"encoding":{"y":{"field":"v","type":"quantitative","scale":{"domain":[-9.8,117.4],"nice":false,"zero":false},"title":null,"axis":{"orient":"right","values":[0,40,80],"format":".4f","grid":true}}}},
 {"data":{"name":"lb"},"mark":{"type":"line","color":"#7fb6d6","strokeWidth":1.1,"clip":true},"encoding":{"x":{"field":"i","type":"quantitative","scale":{"domain":[-0.8,148.4],"nice":false,"zero":false},"title":null,"axis":{"values":[0,12,23,40,49,58,69,81,92,104,115,127,138],"grid":true,"gridColor":"#e6edf3","labels":false,"ticks":false,"domain":false}},"y":{"field":"v","type":"quantitative","scale":{"domain":[-9.8,117.4],"nice":false,"zero":false},"title":null,"axis":{"orient":"right","values":[0,40,80],"format":".4f","grid":true}}}},
 {"data":{"name":"st"},"mark":{"type":"line","color":"#5a8bcb","strokeWidth":2,"interpolate":"step-after","clip":true},"encoding":{"x":{"field":"i","type":"quantitative","scale":{"domain":[-0.8,148.4],"nice":false,"zero":false},"title":null,"axis":{"values":[0,12,23,40,49,58,69,81,92,104,115,127,138],"grid":true,"gridColor":"#e6edf3","labels":false,"ticks":false,"domain":false}},"y":{"field":"v","type":"quantitative","scale":{"domain":[-9.8,117.4],"nice":false,"zero":false},"title":null,"axis":{"orient":"right","values":[0,40,80],"format":".4f","grid":true}}}},
 {"data":{"name":"kl"},"mark":{"type":"line","color":"#111111","strokeWidth":1.3,"clip":true},"encoding":{"x":{"field":"i","type":"quantitative","scale":{"domain":[-0.8,148.4],"nice":false,"zero":false},"title":null,"axis":{"values":[0,12,23,40,49,58,69,81,92,104,115,127,138],"grid":true,"gridColor":"#e6edf3","labels":false,"ticks":false,"domain":false}},"y":{"field":"v","type":"quantitative","scale":{"domain":[-9.8,117.4],"nice":false,"zero":false},"title":null,"axis":{"orient":"right","values":[0,40,80],"format":".4f","grid":true}}}},
 {"data":{"name":"dots"},"mark":{"type":"point","filled":true,"color":"#111111","size":3,"opacity":1},"encoding":{"x":{"field":"i","type":"quantitative","scale":{"domain":[-0.8,148.4],"nice":false,"zero":false},"title":null,"axis":{"values":[0,12,23,40,49,58,69,81,92,104,115,127,138],"grid":true,"gridColor":"#e6edf3","labels":false,"ticks":false,"domain":false}},"y":{"field":"v","type":"quantitative","scale":{"domain":[-9.8,117.4],"nice":false,"zero":false},"title":null,"axis":{"orient":"right","values":[0,40,80],"format":".4f","grid":true}}}},
 {"data":{"name":"mk"},"mark":{"type":"point","filled":true,"color":"#1d4f91","size":24,"opacity":1},"encoding":{"x":{"field":"i","type":"quantitative","scale":{"domain":[-0.8,148.4],"nice":false,"zero":false},"title":null,"axis":{"values":[0,12,23,40,49,58,69,81,92,104,115,127,138],"grid":true,"gridColor":"#e6edf3","labels":false,"ticks":false,"domain":false}},"y":{"field":"v","type":"quantitative","scale":{"domain":[-9.8,117.4],"nice":false,"zero":false},"title":null,"axis":{"orient":"right","values":[0,40,80],"format":".4f","grid":true}}}},
 {"data":{"values":[{"i":61.86,"v":80.5}]},"mark":{"type":"point","shape":"M-1,0C-1,-0.4418,-0.5523,-0.8,0,-0.8C0.5523,-0.8,1,-0.4418,1,0C1,0.4418,0.5523,0.8,0,0.8C-0.5523,0.8,-1,0.4418,-1,0Z","size":625,"filled":true,"fill":"#c9c6bd","stroke":"#1a1a1a","strokeWidth":2,"opacity":1},"encoding":{"x":{"field":"i","type":"quantitative","scale":{"domain":[-0.8,148.4],"nice":false,"zero":false},"title":null,"axis":{"values":[0,12,23,40,49,58,69,81,92,104,115,127,138],"grid":true,"gridColor":"#e6edf3","labels":false,"ticks":false,"domain":false}},"y":{"field":"v","type":"quantitative","scale":{"domain":[-9.8,117.4],"nice":false,"zero":false},"title":null,"axis":{"orient":"right","values":[0,40,80],"format":".4f","grid":true}}}},
 {"data":{"values":[{"t":"threeCB (10, 5, 3, 3, 10, 35, 5, 0.8, 0.2, 240, 240)","i":0.05,"v":91.6}]},"mark":{"type":"text","font":"DejaVu Sans Mono","fontSize":7,"color":"#777777","align":"left","baseline":"middle"},"encoding":{"x":{"field":"i","type":"quantitative","scale":{"domain":[-0.8,148.4],"nice":false,"zero":false},"title":null,"axis":{"values":[0,12,23,40,49,58,69,81,92,104,115,127,138],"grid":true,"gridColor":"#e6edf3","labels":false,"ticks":false,"domain":false}},"y":{"field":"v","type":"quantitative","scale":{"domain":[-9.8,117.4],"nice":false,"zero":false},"title":null,"axis":{"orient":"right","values":[0,40,80],"format":".4f","grid":true}},"text":{"field":"t","type":"nominal"}}}
]},
{"width":893,"height":90,
"layer":[
 {"data":{"name":"hist"},"mark":{"type":"bar","size":2.2},"encoding":{"x":{"field":"i","type":"quantitative","scale":{"domain":[-0.8,148.4],"nice":false,"zero":false},"title":null,"axis":{"values":[0.45,12,23,40,49,58,69,81,92,104,115,127,138],"labelExpr":"datum.value == 0.45 ? '2:00' : datum.value == 12 ? '11' : datum.value == 40 ? '14' : datum.value == 49 ? '15:00' : datum.value == 58 ? '15' : datum.value == 81 ? '16' : datum.value == 104 ? '17' : datum.value == 127 ? '18' : '12:00'","grid":true,"gridColor":"#e6edf3","ticks":false,"domain":false,"labelFlush":false,"labelOverlap":false,"labelBound":false,"labelFontSize":7.5,"labelColor":"#555555","labelPadding":6}},"y":{"field":"h","type":"quantitative","scale":{"domain":[-0.01298,0.01438],"nice":false,"zero":false},"title":null,"axis":{"orient":"right","values":[-0.01,0,0.01],"format":".4f","grid":true}},"y2":{"datum":0},"color":{"condition":[{"test":"datum.k == 'ur'","value":"#d42a2a"},{"test":"datum.k == 'uf'","value":"#eea1a1"},{"test":"datum.k == 'df'","value":"#1d3d31"}],"value":"#6caf91"}}},
 {"data":{"values":[{"v":0}]},"mark":{"type":"rule","color":"#333333","strokeWidth":1},"encoding":{"y":{"field":"v","type":"quantitative","scale":{"domain":[-0.01298,0.01438],"nice":false,"zero":false},"title":null,"axis":{"orient":"right","values":[-0.01,0,0.01],"format":".4f","grid":true}}}},
 {"data":{"name":"sig"},"mark":{"type":"line","color":"#4f86c6","strokeWidth":1.4,"clip":true},"encoding":{"x":{"field":"i","type":"quantitative","scale":{"domain":[-0.8,148.4],"nice":false,"zero":false},"title":null,"axis":{"values":[0.45,12,23,40,49,58,69,81,92,104,115,127,138],"labelExpr":"datum.value == 0.45 ? '2:00' : datum.value == 12 ? '11' : datum.value == 40 ? '14' : datum.value == 49 ? '15:00' : datum.value == 58 ? '15' : datum.value == 81 ? '16' : datum.value == 104 ? '17' : datum.value == 127 ? '18' : '12:00'","grid":true,"gridColor":"#e6edf3","ticks":false,"domain":false,"labelFlush":false,"labelOverlap":false,"labelBound":false,"labelFontSize":7.5,"labelColor":"#555555","labelPadding":6}},"y":{"field":"v","type":"quantitative","scale":{"domain":[-0.01298,0.01438],"nice":false,"zero":false},"title":null,"axis":{"orient":"right","values":[-0.01,0,0.01],"format":".4f","grid":true}}}},
 {"data":{"name":"macd"},"transform":[{"filter":"datum.col == 'r'"}],"mark":{"type":"line","color":"#e02a2a","strokeWidth":1.4,"clip":true},"encoding":{"x":{"field":"i","type":"quantitative","scale":{"domain":[-0.8,148.4],"nice":false,"zero":false},"title":null,"axis":{"values":[0.45,12,23,40,49,58,69,81,92,104,115,127,138],"labelExpr":"datum.value == 0.45 ? '2:00' : datum.value == 12 ? '11' : datum.value == 40 ? '14' : datum.value == 49 ? '15:00' : datum.value == 58 ? '15' : datum.value == 81 ? '16' : datum.value == 104 ? '17' : datum.value == 127 ? '18' : '12:00'","grid":true,"gridColor":"#e6edf3","ticks":false,"domain":false,"labelFlush":false,"labelOverlap":false,"labelBound":false,"labelFontSize":7.5,"labelColor":"#555555","labelPadding":6}},"y":{"field":"v","type":"quantitative","scale":{"domain":[-0.01298,0.01438],"nice":false,"zero":false},"title":null,"axis":{"orient":"right","values":[-0.01,0,0.01],"format":".4f","grid":true}},"detail":{"field":"g","type":"nominal"}}},
 {"data":{"name":"macd"},"transform":[{"filter":"datum.col == 'g'"}],"mark":{"type":"line","color":"#2e8f38","strokeWidth":1.4,"clip":true},"encoding":{"x":{"field":"i","type":"quantitative","scale":{"domain":[-0.8,148.4],"nice":false,"zero":false},"title":null,"axis":{"values":[0.45,12,23,40,49,58,69,81,92,104,115,127,138],"labelExpr":"datum.value == 0.45 ? '2:00' : datum.value == 12 ? '11' : datum.value == 40 ? '14' : datum.value == 49 ? '15:00' : datum.value == 58 ? '15' : datum.value == 81 ? '16' : datum.value == 104 ? '17' : datum.value == 127 ? '18' : '12:00'","grid":true,"gridColor":"#e6edf3","ticks":false,"domain":false,"labelFlush":false,"labelOverlap":false,"labelBound":false,"labelFontSize":7.5,"labelColor":"#555555","labelPadding":6}},"y":{"field":"v","type":"quantitative","scale":{"domain":[-0.01298,0.01438],"nice":false,"zero":false},"title":null,"axis":{"orient":"right","values":[-0.01,0,0.01],"format":".4f","grid":true}},"detail":{"field":"g","type":"nominal"}}},
 {"data":{"name":"md"},"mark":{"type":"point","filled":true,"size":36,"opacity":1},"encoding":{"x":{"field":"i","type":"quantitative","scale":{"domain":[-0.8,148.4],"nice":false,"zero":false},"title":null,"axis":{"values":[0.45,12,23,40,49,58,69,81,92,104,115,127,138],"labelExpr":"datum.value == 0.45 ? '2:00' : datum.value == 12 ? '11' : datum.value == 40 ? '14' : datum.value == 49 ? '15:00' : datum.value == 58 ? '15' : datum.value == 81 ? '16' : datum.value == 104 ? '17' : datum.value == 127 ? '18' : '12:00'","grid":true,"gridColor":"#e6edf3","ticks":false,"domain":false,"labelFlush":false,"labelOverlap":false,"labelBound":false,"labelFontSize":7.5,"labelColor":"#555555","labelPadding":6}},"y":{"field":"v","type":"quantitative","scale":{"domain":[-0.01298,0.01438],"nice":false,"zero":false},"title":null,"axis":{"orient":"right","values":[-0.01,0,0.01],"format":".4f","grid":true}},"color":{"condition":{"test":"datum.col == 'r'","value":"#e53935"},"value":"#2b7d30"}}},
 {"data":{"values":[{"t":"CM_Ult_MacD_MTF (240, 12, 26, 9)","i":0.05,"v":0.0101}]},"mark":{"type":"text","font":"DejaVu Sans Mono","fontSize":7,"color":"#777777","align":"left","baseline":"middle"},"encoding":{"x":{"field":"i","type":"quantitative","scale":{"domain":[-0.8,148.4],"nice":false,"zero":false},"title":null,"axis":{"values":[0.45,12,23,40,49,58,69,81,92,104,115,127,138],"labelExpr":"datum.value == 0.45 ? '2:00' : datum.value == 12 ? '11' : datum.value == 40 ? '14' : datum.value == 49 ? '15:00' : datum.value == 58 ? '15' : datum.value == 81 ? '16' : datum.value == 104 ? '17' : datum.value == 127 ? '18' : '12:00'","grid":true,"gridColor":"#e6edf3","ticks":false,"domain":false,"labelFlush":false,"labelOverlap":false,"labelBound":false,"labelFontSize":7.5,"labelColor":"#555555","labelPadding":6}},"y":{"field":"v","type":"quantitative","scale":{"domain":[-0.01298,0.01438],"nice":false,"zero":false},"title":null,"axis":{"orient":"right","values":[-0.01,0,0.01],"format":".4f","grid":true}},"text":{"field":"t","type":"nominal"}}}
]}
]
}
